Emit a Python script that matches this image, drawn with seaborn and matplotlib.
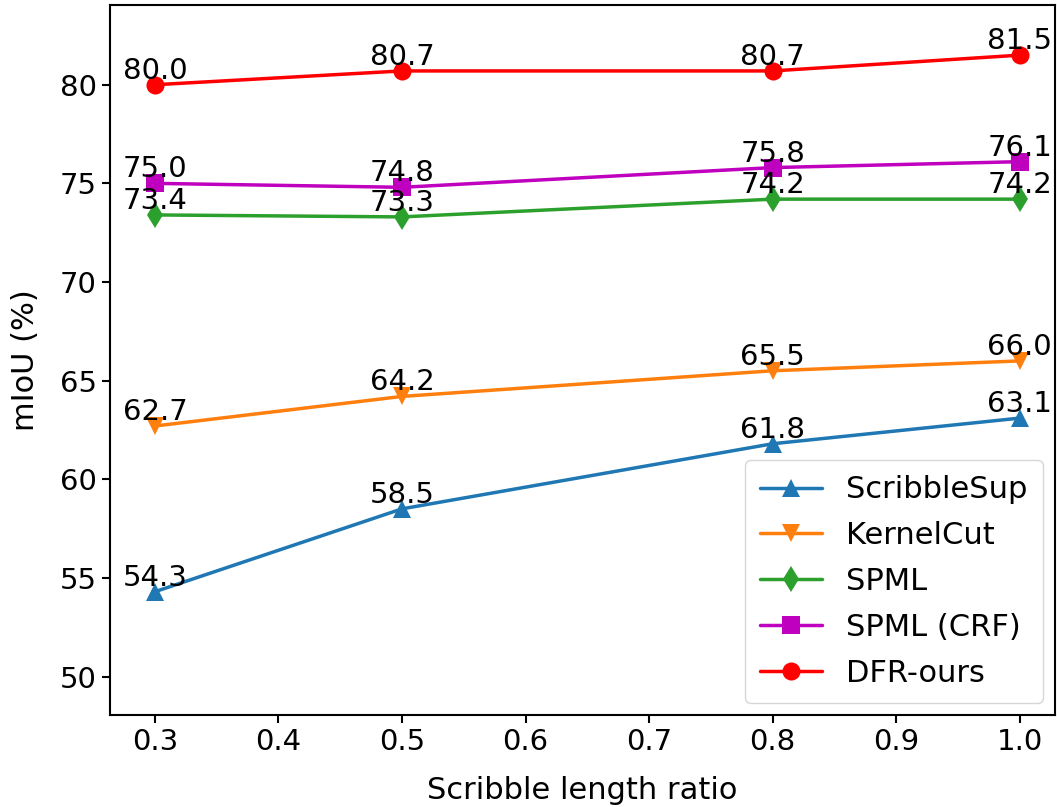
import matplotlib
matplotlib.use("Agg")
import matplotlib.pyplot as plt
import seaborn as sns
import pandas as pd

# Scribble length ratio vs mIoU
ratios = [0.3, 0.5, 0.8, 1.0]
scribblesup = [54.3, 58.5, 61.8, 63.1]
kernelcut = [62.7, 64.2, 65.5, 66.0]
spml = [73.4, 73.3, 74.2, 74.2]
spml_crf = [75.0, 74.8, 75.8, 76.1]
dfr_ours = [80.0, 80.7, 80.7, 81.5]

series = [
    ("ScribbleSup", scribblesup, "#1f77b4", "^"),
    ("KernelCut", kernelcut, "#ff7f0e", "v"),
    ("SPML", spml, "#2ca02c", "d"),
    ("SPML (CRF)", spml_crf, "#bf00bf", "s"),
    ("DFR-ours", dfr_ours, "#ff0000", "o"),
]

sns.set_theme(style="ticks", rc={
    "text.color": "black", "axes.labelcolor": "black",
    "xtick.color": "black", "ytick.color": "black", "axes.edgecolor": "black",
})
plt.rcParams["font.family"] = ["DejaVu Sans"]

fig = plt.figure(figsize=(10.57, 8.07), dpi=100)
ax = fig.add_axes([0.104, 0.114, 0.894, 0.88])

fs = 21
for name, vals, color, marker in series:
    df = pd.DataFrame({"ratio": ratios, "miou": vals})
    sns.lineplot(data=df, x="ratio", y="miou", ax=ax, color=color, marker=marker,
                 markersize=13, markeredgewidth=0, linewidth=2.5, label=name)
    for x, y in zip(ratios, vals):
        ax.text(x, y, f"{y:.1f}", ha="center", va="bottom", fontsize=fs)

ax.set_ylim(48.05, 84.05)
ax.set_xlim(0.2636, 1.0285)
ax.set_yticks([50, 55, 60, 65, 70, 75, 80])
ax.set_xticks([0.3, 0.4, 0.5, 0.6, 0.7, 0.8, 0.9, 1.0])
ax.tick_params(labelsize=fs, width=1.5, length=6)
for s in ax.spines.values():
    s.set_linewidth(1.5)
ax.set_xlabel("Scribble length ratio", fontsize=22, labelpad=14)
ax.set_ylabel("mIoU (%)", fontsize=22, labelpad=14)
ax.legend(loc="lower right", fontsize=22, frameon=True, handlelength=2.0,
          borderaxespad=0.4, labelspacing=0.55, borderpad=0.5)

fig.savefig("out.png", dpi=100)
